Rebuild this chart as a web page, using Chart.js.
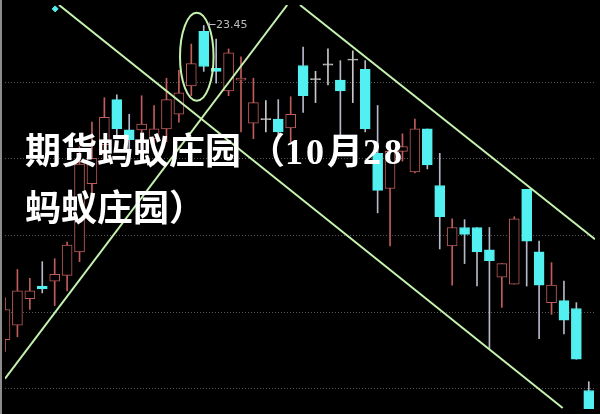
<!DOCTYPE html>
<html>
<head>
<meta charset="utf-8">
<script src="https://cdn.jsdelivr.net/npm/chart.js@4.4.0/dist/chart.umd.min.js"></script>
<style>
	html, body { margin: 0; padding: 0; background: #000; }
	#box { position: relative; width: 600px; height: 414px; overflow: hidden; background: #000; }
	#edge { position: absolute; left: 0; top: 0; width: 598px; height: 414px; border-left: 2px solid #8c8c8c; pointer-events: none; }
	#title {
		position: absolute; left: 25px; top: 124px;
		font-family: "Liberation Serif", "Noto Sans CJK SC", serif;
		font-weight: bold; font-size: 36px; line-height: 57px;
		color: #fff; white-space: nowrap;
	}
	#title .p { margin-left: 8px; }
	#title .n { letter-spacing: 3px; }
</style>
</head>
<body>
<div id="box">
	<canvas id="myChart"></canvas>
	<div id="edge"></div>
	<div id="title">期货蚂蚁庄园<span class="p">（</span><span class="n">10</span>月<span class="n">28</span><br>蚂蚁庄园）</div>
</div>
<script>
// daily candles
const opens  = [20.23, 20.38, 20.65, 20.78, 20.83, 20.89, 21.13, 21.83, 22.23, 22.69, 22.38, 22.38, 22.29, 22.39, 22.54, 22.83,
	23.39, 23.01, 22.78, 22.89, 22.45, 22.49, 22.49, 22.40, 23.04, 22.90, 23.05, 22.89, 23.10, 23.00, 22.14, 21.78,
	22.16, 21.95, 22.39, 21.81, 21.19, 21.38, 21.38, 21.15, 20.87, 20.80, 21.77, 21.13, 20.61, 20.63, 20.55, 19.71];
const closes = [20.54, 20.73, 20.73, 20.75, 20.90, 21.20, 22.03, 22.09, 22.51, 22.39, 22.28, 22.44, 22.39, 22.69, 22.76, 23.06,
	23.03, 22.98, 23.17, 22.91, 22.66, 22.49, 22.36, 22.54, 22.73, 22.90, 23.05, 22.78, 23.10, 22.39, 21.76, 22.16,
	22.21, 22.39, 22.02, 21.49, 21.38, 21.31, 21.13, 21.04, 21.01, 21.47, 21.24, 20.79, 20.79, 20.43, 20.03, 19.36];
const highs  = [20.66, 20.95, 20.86, 21.03, 21.06, 21.23, 22.21, 22.46, 22.71, 22.74, 22.54, 22.73, 22.63, 22.91, 22.99, 23.26,
	23.45, 23.31, 23.21, 23.13, 22.91, 22.68, 22.69, 22.72, 23.23, 22.98, 23.21, 23.09, 23.19, 23.09, 22.63, 22.26,
	22.34, 22.49, 22.39, 22.14, 21.47, 21.46, 21.38, 21.38, 21.01, 21.49, 21.77, 21.24, 21.02, 20.83, 20.61, 19.80];
const lows   = [20.11, 20.26, 20.54, 20.71, 20.58, 20.73, 21.03, 21.66, 22.06, 22.33, 22.16, 22.21, 22.16, 22.26, 22.46, 22.73,
	22.98, 22.86, 22.73, 22.36, 22.29, 22.36, 22.29, 22.26, 22.56, 22.66, 22.84, 22.33, 22.66, 22.36, 21.53, 21.19,
	22.06, 21.94, 21.98, 21.16, 20.79, 21.01, 20.78, 20.14, 20.56, 20.80, 20.78, 20.24, 20.49, 20.29, 20.03, 19.26];

// dotted price levels
const gridLevels = [22.87, 22.09, 21.30, 20.51, 19.73];

// hand drawn trend lines, [bar index, price]
const lineA = [[4.35, 23.66], [44.9, 19.53]];
const lineB = [[0, 19.83], [22.72, 23.66]];
const lineC = [[23.75, 23.66], [47.5, 21.26]];
const startMark = [[4.04, 23.62]];

// ring drawn round the top
const ringCenter = [15.44, 23.13];
const ringRadius = [1.35, 0.45];

const upColor = '#c05c5c';
const downColor = '#52f0f0';
const flatColor = '#c8c8c8';
const downWick = '#b4b8c8';
const trendColor = '#c6f2b0';

var myChart;

window.addEventListener('load', function(){
	drawChart();
});

function candleColor(i, wick){
	if(closes[i] > opens[i]) return upColor;
	if(closes[i] < opens[i]) return wick ? downWick : downColor;
	return flatColor;
}

function drawChart(){
	let bodies = [];
	let wicks = [];
	let fills = [];
	let borders = [];
	let wickColors = [];

	for(var i = 0; i < opens.length; i++){
		let lo = Math.min(opens[i], closes[i]);
		let hi = Math.max(opens[i], closes[i]);
		if(hi - lo < 0.012){
			lo -= 0.006;
			hi += 0.006;
		}
		bodies.push({x: i, y: [lo, hi]});
		wicks.push({x: i, y: [lows[i], highs[i]]});
		fills.push(closes[i] > opens[i] ? '#000' : candleColor(i, false));
		borders.push(candleColor(i, false));
		wickColors.push(candleColor(i, true));
	}

	const toPts = function(arr){
		return arr.map(function(p){ return {x: p[0], y: p[1]}; });
	};

	const trendSet = function(arr){
		return {
			type: 'line',
			data: toPts(arr),
			borderColor: trendColor,
			borderWidth: 2,
			pointRadius: 0,
			order: 0
		};
	};

	const marks = {
		id: 'marks',
		afterDatasetsDraw(chart){
			const ctx = chart.ctx;
			const x = chart.scales.x;
			const y = chart.scales.y;
			ctx.save();

			// ring
			let cx = x.getPixelForValue(ringCenter[0]);
			let cy = y.getPixelForValue(ringCenter[1]);
			let rx = Math.abs(x.getPixelForValue(ringCenter[0] + ringRadius[0]) - cx);
			let ry = Math.abs(y.getPixelForValue(ringCenter[1] + ringRadius[1]) - cy);
			ctx.strokeStyle = trendColor;
			ctx.lineWidth = 2;
			ctx.beginPath();
			ctx.ellipse(cx, cy, rx, ry, 0, 0, Math.PI * 2);
			ctx.stroke();

			// top price label
			let top = 0;
			for(var i = 1; i < highs.length; i++){
				if(highs[i] > highs[top]) top = i;
			}
			ctx.fillStyle = '#bdbdbd';
			ctx.font = '11px "DejaVu Sans", sans-serif';
			ctx.textBaseline = 'middle';
			ctx.fillText('\u2190' + highs[top].toFixed(2), x.getPixelForValue(top) + 3, y.getPixelForValue(highs[top]));
			ctx.restore();
		}
	};

	const config = {
		type: 'bar',
		data: {
			datasets: [
				trendSet(lineA),
				trendSet(lineB),
				trendSet(lineC),
				{
					type: 'scatter',
					data: toPts(startMark),
					pointStyle: 'rectRot',
					pointRadius: 3,
					backgroundColor: downColor,
					borderColor: downColor,
					order: 0
				},
				{
					data: bodies,
					backgroundColor: fills,
					borderColor: borders,
					borderWidth: 1,
					borderSkipped: false,
					barThickness: 10,
					grouped: false,
					order: 1
				},
				{
					data: wicks,
					backgroundColor: wickColors,
					borderWidth: 0,
					barThickness: 1,
					grouped: false,
					order: 2
				}
			]
		},
		options: {
			responsive: true,
			maintainAspectRatio: false,
			animation: false,
			layout: { padding: 0 },
			plugins: {
				legend: { display: false },
				tooltip: { enabled: false }
			},
			scales: {
				x: {
					type: 'linear',
					min: 0,
					max: 47.5,
					offset: false,
					display: false
				},
				y: {
					min: 19.52,
					max: 23.66,
					afterBuildTicks: function(axis){
						axis.ticks = gridLevels.map(function(v){ return {value: v}; });
					},
					ticks: { display: false },
					grid: { color: '#5a5a5a', drawTicks: false, lineWidth: 1 },
					border: { display: false, dash: [1, 2] }
				}
			}
		},
		plugins: [marks]
	};

	myChart = new Chart(document.getElementById('myChart'), config);
}
</script>
</body>
</html>
